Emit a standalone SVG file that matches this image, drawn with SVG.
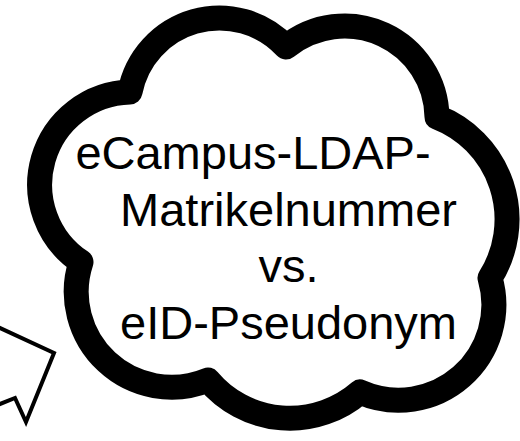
<svg xmlns="http://www.w3.org/2000/svg" width="520" height="441" viewBox="0 0 520 441">
  <style>
    .cloud { fill: #ffffff; stroke: #000000; stroke-width: 25; stroke-linejoin: round; }
    .arrow { fill: #ffffff; stroke: #000000; stroke-width: 4; stroke-linejoin: miter; }
    .label { font-family: "Liberation Sans", Arial, sans-serif; font-size: 47px; fill: #000000; }
  </style>
  <rect x="0" y="0" width="520" height="441" fill="#ffffff"/>
  <g id="connectors">
    <g id="arrow">
      <polygon class="arrow" points="-10,323.4 54,353 26,422 15,398 -10,408"/>
    </g>
  </g>
  <g id="cloud">
    <path class="cloud" d="M 130 92 A 91 91 0 0 1 286 47 A 92.4 92.4 0 0 1 437 117 A 109.7 109.7 0 0 1 490 278 A 95.3 95.3 0 0 1 360 392 A 106.8 106.8 0 0 1 208 380 A 95.4 95.4 0 0 1 81 262 A 92.8 92.8 0 0 1 130 92 Z"/>
    <text class="label" x="253" y="169" text-anchor="middle">eCampus-LDAP-</text>
    <text class="label" x="288.5" y="225.5" text-anchor="middle">Matrikelnummer</text>
    <text class="label" x="288.5" y="282" text-anchor="middle">vs.</text>
    <text class="label" x="288.5" y="338.5" text-anchor="middle">eID-Pseudonym</text>
  </g>
</svg>
